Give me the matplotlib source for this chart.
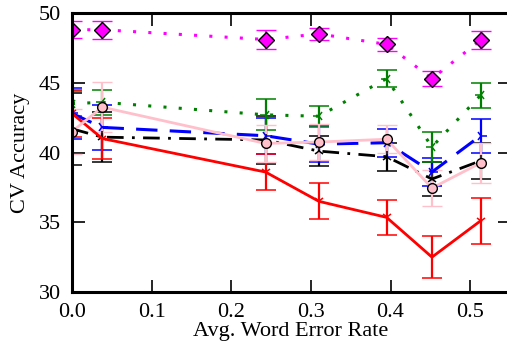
import numpy as np
import matplotlib
matplotlib.use("Agg")
import matplotlib.pyplot as plt

plt.rcParams['font.family'] = ['Liberation Serif', 'DejaVu Serif']
plt.rcParams['mathtext.fontset'] = 'stix'

# avg. word error rate for each condition
wer = [0.0, 0.038, 0.243, 0.31, 0.395, 0.452, 0.513]

# CV accuracy and error for each run
magenta_y = [48.8, 48.8, 48.1, 48.5, 47.75, 45.3, 48.05]
magenta_e = [0.6, 0.65, 0.7, 0.45, 0.47, 0.55, 0.65]

green_y = [43.5, 43.6, 42.7, 42.6, 45.3, 40.4, 44.1]
green_e = [0.9, 0.9, 1.1, 0.75, 0.6, 1.05, 0.9]

blue_y = [42.8, 41.8, 41.2, 40.6, 40.7, 38.6, 41.2]
blue_e = [1.8, 1.6, 1.3, 1.3, 1.0, 1.0, 1.2]

black_y = [41.7, 41.1, 40.9, 40.1, 39.7, 38.1, 39.4]
black_e = [2.6, 1.8, 1.7, 1.05, 1.0, 1.2, 1.3]

red_y = [42.8, 41.0, 38.6, 36.5, 35.35, 32.5, 35.1]
red_e = [1.7, 1.5, 1.3, 1.3, 1.25, 1.5, 1.65]

pink_y = [41.5, 43.25, 40.65, 40.75, 40.95, 37.45, 39.25]
pink_e = [1.6, 1.8, 1.3, 1.3, 1.0, 1.3, 1.45]

fig = plt.figure(figsize=(5.07, 3.5), dpi=100)
ax = fig.add_axes([72/507, 58/350, 438/507, 279/350])

eb = dict(capsize=7, elinewidth=1.6, capthick=1.6)

ax.errorbar(wer, black_y, yerr=black_e, color='black', ls=(0, (6, 3, 1, 3)), lw=2,
            marker='2', ms=8, mew=1.1, **eb)
ax.errorbar(wer, blue_y, yerr=blue_e, color='blue', ls=(0, (7, 4)), lw=2.2,
            marker='4', ms=8, mew=1.1, **eb)
ax.errorbar(wer, green_y, yerr=green_e, color='green', ls=(0, (1, 4)), lw=2.2,
            marker='3', ms=8, mew=1.1, **eb)
ax.errorbar(wer, red_y, yerr=red_e, color='red', ls='-', lw=2,
            marker='1', ms=8, mew=1.1, **eb)
ax.errorbar(wer, pink_y, yerr=pink_e, color='pink', ls='-', lw=2,
            marker='o', ms=7, mfc='pink', mec='black', mew=1, **eb)
ax.errorbar(wer, magenta_y, yerr=magenta_e, color='magenta', ls=(0, (1, 4)), lw=2.2,
            marker='D', ms=8, mfc='magenta', mec='black', mew=1, **eb)

ax.set_xlim(0, 0.55)
ax.set_ylim(30, 50)
ax.set_xticks([0.0, 0.1, 0.2, 0.3, 0.4, 0.5])
ax.set_yticks([30, 35, 40, 45, 50])
ax.set_xticklabels(['0.0', '0.1', '0.2', '0.3', '0.4', '0.5'])
ax.tick_params(direction='in', length=9, width=1.2, top=True, right=True,
               labelsize=16, pad=8)
for s in ax.spines.values():
    s.set_linewidth(2.2)

ax.set_xlabel('Avg. Word Error Rate', fontsize=16, labelpad=0)
ax.set_ylabel('CV Accuracy', fontsize=16, labelpad=6)

fig.savefig('out.png', dpi=100)
